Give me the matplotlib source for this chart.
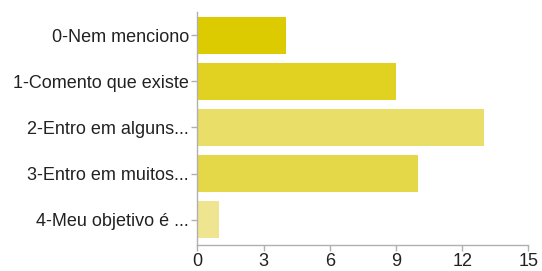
import matplotlib
matplotlib.use("Agg")
import matplotlib.pyplot as plt

categories = ["0-Nem menciono", "1-Comento que existe", "2-Entro em alguns...",
              "3-Entro em muitos...", "4-Meu objetivo é ..."]
values = [4, 9, 13, 10, 1]
colors = ["#dccb00", "#e1d121", "#e8de68", "#e4d748", "#efe48f"]
xticks = [0, 3, 6, 9, 12, 15]

plt.rcParams['font.family'] = ['Liberation Sans', 'DejaVu Sans']

fig = plt.figure(figsize=(5.42, 2.71), dpi=100)
ax = fig.add_axes([0.364, 0.095, 0.611, 0.861])

ypos = list(range(len(categories)))
ax.barh(ypos, values, height=0.8, color=colors)

ax.set_xlim(0, 15)
ax.set_ylim(4.55, -0.5)
ax.set_xticks(xticks)
ax.set_yticks(ypos)
ax.set_yticklabels(categories)

for s in ["top", "right"]:
    ax.spines[s].set_visible(False)
for s in ["left", "bottom"]:
    ax.spines[s].set_color("#b0b0b0")
    ax.spines[s].set_linewidth(1)

ax.tick_params(axis="both", colors="#b0b0b0", labelcolor="#222222",
               labelsize=13, length=4, width=1)
ax.tick_params(axis="y", pad=2)
ax.tick_params(axis="x", pad=1.5)

fig.savefig("out.png", dpi=100)
